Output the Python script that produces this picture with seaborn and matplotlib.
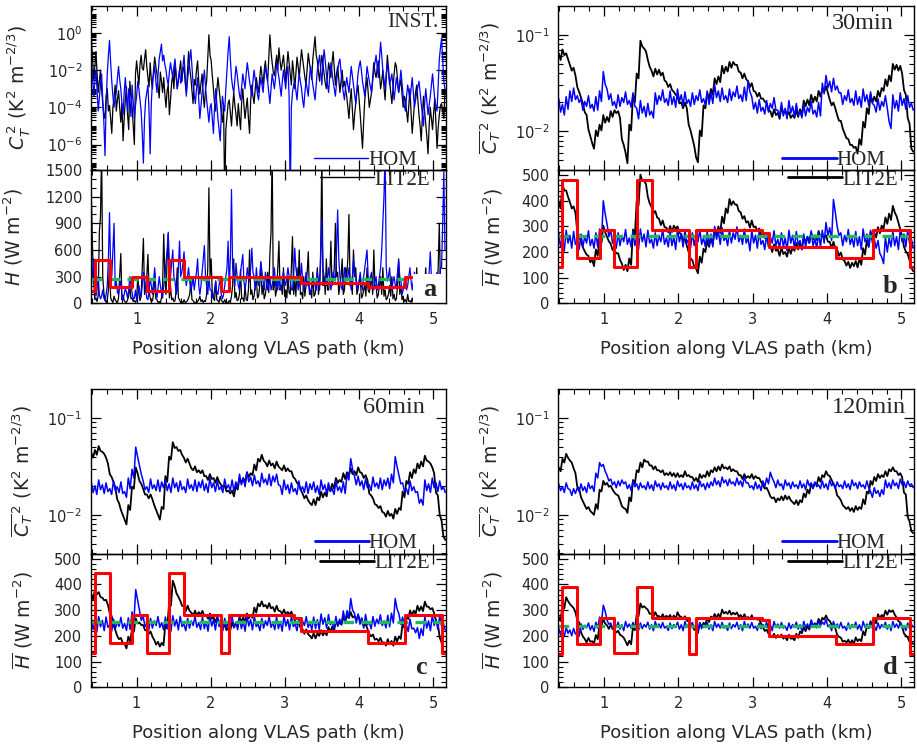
import numpy as np
import matplotlib
matplotlib.use("Agg")
import matplotlib.pyplot as plt
from matplotlib.lines import Line2D
from matplotlib.patches import Rectangle
from matplotlib.ticker import MultipleLocator, LogLocator, FixedLocator, FuncFormatter, NullFormatter
import seaborn as sns

# ------------------------------------------------------------------
# Samples along the VLAS path (km): first and last sample position
x_start, x_end = 0.39, 5.16

# --- instantaneous fields: log10 of C_T^2 and H (W m^-2) ---
ct2_lit_inst = [-0.3, -1.4, -2.5, -1.8, -1.0, -2.2, -3.2, -2.6, -2.0, -3.0, -3.8, -4.4, -4.6, -3.4, -3.0, -4.2, -3.9, -4.6, -5.4, -4.0,
                -3.5, -2.8, -4.2, -3.6, -3.1, -4.0, -4.8, -3.8, -5.8, -4.6, -3.6, -2.9, -4.4, -5.2, -2.6, -3.4, -4.0, -5.0, -6.0, -2.2,
                -1.5, -2.2, -2.8, -1.7, -1.2, -1.9, -2.0, -1.4, -0.9, -1.8, -2.4, -2.9, -1.6, -2.5, -3.0, -2.0, -1.3, -1.8, -2.2, -2.9,
                -3.5, -2.1, -2.6, -3.2,
                -2.4, -3.3, -4.0, -3.1, -2.8, -4.4, -3.6, -2.7, -2.2, -3.0, -1.6, -2.4, -3.0, -2.5, -2.0, -1.5,
                -2.6, -2.0, -1.8, -2.7, -3.2, -2.1, -1.0, -1.9, -2.4, -3.1, -3.8, -2.5, -2.8, -2.0, -1.5, -2.6, -3.3, -2.7, -2.2, -3.4,
                -4.0, -3.0, -2.6, -1.4, -0.1, -1.2,
                -1.5, -2.3, -3.0, -3.8, -4.2, -3.1, -2.4, -3.0, -3.6, -4.4, -4.8, -3.9, -9.0, -5.2, -4.5, -3.8,
                -3.6, -4.3, -5.0, -4.0, -3.2, -3.9, -4.4, -5.0, -3.8, -4.5, -5.2, -3.7, -3.0, -3.9, -4.6, -4.0, -3.5, -4.6, -5.4, -3.6,
                -2.8, -3.4, -3.8, -3.0,
                -2.4, -2.9, -3.2, -2.4, -1.8, -2.3, -2.8, -2.0, -1.5, -2.2, -2.6, -1.4, -0.1, -1.0, -1.6, -2.1, -2.3, -1.7, -1.2, -2.0,
                -0.8, -1.5, -2.0, -1.6, -1.2, -1.9, -2.6, -1.8, -1.0, -1.6, -2.2, -2.8, -1.5, -2.1, -3.0, -2.2, -1.3, -1.8, -2.4, -1.6,
                -0.9, -1.4, -1.9, -2.4, -2.8, -1.9, -1.1, -1.6, -2.0, -2.5, -1.4, -0.8, -0.2, -1.2,
                -1.5, -2.1, -2.6, -1.8, -1.2, -1.7, -2.2, -2.7, -3.0, -2.3, -1.6, -2.0, -2.4, -1.6, -1.0, -1.9, -2.8, -2.2, -1.8, -2.5,
                -3.2, -2.6, -2.0, -2.9, -2.6, -3.0,
                -3.4, -4.0, -4.6, -3.7, -3.0, -4.1, -5.2, -4.4, -3.8, -3.2, -2.8, -3.6, -4.4, -5.3, -6.2, -4.8, -3.6, -3.0, -2.4, -3.2,
                -4.0, -3.6, -3.2, -2.4, -1.6, -2.1,
                -2.4, -1.9, -1.5, -2.2, -3.0, -2.6, -2.0, -2.9, -3.6, -2.4, -1.2, -1.9, -2.6, -3.2, -3.8, -3.0, -2.2, -1.6, -1.8, -2.5,
                -3.2, -2.8, -2.5, -3.3, -4.0, -3.4,
                -3.6, -4.2, -4.8, -3.9, -3.0, -4.3, -5.4, -4.6, -3.8, -3.2, -2.8, -3.6, -4.4, -5.0, -5.8, -4.5, -3.4, -4.2, -4.9, -5.6,
                -6.5, -5.0, -4.0, -4.6, -5.2, -4.3, -3.5, -4.8, -6.2, -5.1, -4.4, -3.9, -3.8, -4.2, -4.6, -3.2]
ct2_hom_inst = [-1.6, -2.4, -3.4, -2.6, -2.0, -3.1, -4.2, -3.5, -2.8, -2.2, -3.6, -4.8, -6.6, -3.8, -2.2, -1.2, -0.4, -1.6, -2.6, -3.4,
                -4.0, -3.5, -3.2, -2.4, -1.8, -2.5, -3.0, -3.8, -4.4, -3.2, -2.4, -3.3, -4.2, -3.0, -3.6, -4.5, -2.8, -3.7, -4.6, -3.9,
                -3.4, -2.6, -3.0, -3.6, -4.2, -5.4, -7.0, -4.6, -3.6, -3.2, -2.8, -4.2, -6.5, -3.8, -2.6, -2.2, -1.8, -2.6, -3.2, -2.2,
                -1.4, -1.0, -0.6, -1.5,
                -1.2, -1.7, -2.0, -2.5, -2.8, -2.1, -1.6, -2.0, -2.4, -1.8, -1.4, -2.2, -3.0, -2.5, -2.0, -2.7,
                -2.6, -1.8, -1.2, -2.3, -3.4, -2.6, -2.0, -1.4, -0.9, -1.8, -2.8, -3.3, -3.8, -3.0, -2.4, -3.6, -4.6, -3.9, -3.2, -2.6,
                -2.0, -2.9, -3.6, -4.2, -4.8, -4.0,
                -3.8, -4.6, -5.4, -4.0, -3.0, -3.8, -4.6, -5.2, -5.8, -4.4, -3.4, -3.9, -4.2, -3.0, -2.0, -1.0,
                -0.2, -1.4, -2.4, -2.9, -3.2, -2.5, -1.8, -2.2, -2.8, -3.3, -3.6, -2.9, -2.2, -2.6, -3.0, -2.2, -1.6, -2.1, -2.6, -3.0,
                -3.4, -2.6, -2.0, -2.5,
                -2.8, -3.3, -3.6, -2.9, -2.4, -2.8, -3.2, -2.4, -1.8, -2.2, -2.6, -3.2, -3.8, -3.0, -2.2, -2.6, -3.0, -2.4, -1.6, -2.0,
                -2.4, -2.9, -3.4, -2.6, -2.0, -2.5, -3.0, -2.2, -1.8, -3.4, -9.0, -4.0, -3.2, -2.8, -2.6, -3.1, -3.6, -2.8, -2.2, -2.6,
                -3.0, -3.6, -4.0, -3.2, -2.6, -3.0, -3.4, -2.4, -1.8, -2.3, -2.8, -3.2, -3.6, -2.8,
                -2.0, -1.6, -1.2, -2.0, -2.8, -1.6, -0.9, -1.5, -2.2, -2.8, -3.2, -2.3, -1.6, -2.1, -2.6, -3.0, -3.4, -2.7, -2.0, -1.6,
                -1.4, -2.1, -2.8, -3.2, -3.6, -2.9,
                -2.4, -2.8, -3.2, -2.5, -1.8, -2.3, -2.8, -3.3, -3.8, -3.0, -2.2, -1.8, -1.5, -2.0, -2.6, -3.0, -3.4, -2.6, -1.8, -2.2,
                -2.6, -2.9, -3.2, -2.6, -2.0, -1.6,
                -1.2, -1.8, -2.4, -1.4, -0.5, -1.2, -2.0, -2.5, -3.0, -2.2, -1.6, -2.2, -2.8, -2.5, -2.2, -2.9, -3.6, -3.0, -2.4, -2.8,
                -3.2, -2.6, -2.0, -2.7, -3.4, -3.9,
                -4.2, -3.4, -2.8, -3.2, -3.6, -3.0, -2.4, -3.2, -4.0, -3.6, -3.2, -2.9, -2.6, -3.2, -3.8, -4.4, -5.0, -3.8, -3.0, -3.7,
                -4.4, -3.9, -3.4, -2.8, -2.2, -2.9, -3.6, -3.9, -4.2, -2.8, -1.4, -0.8, -0.3, -1.5, -2.6, -3.0]
h_lit_inst = [1150, 600, 250, 40, 60, 20, 90, 800, 980, 1700, 300, 120, 40, 10, 40, 150, 450, 60, 30, 10,
              80, 40, 20, 5, 60, 300, 560, 40, 90, 30, 15, 10, 40, 80, 200, 50, 60, 20, 30, 10,
              40, 300, 120, 30, 80, 400, 730, 100, 200, 300, 550, 150, 60, 20, 30, 100, 350, 50, 40, 10, 20, 5, 60, 200,
              780, 300, 100, 500, 780, 60, 200, 40, 60, 20, 30, 150, 400, 60, 40, 10,
              20, 5, 40, 10, 15, 30, 60, 100, 250, 40, 30, 10, 10, 5, 20, 40, 80, 20, 40, 10, 30, 20, 100, 400, 1300, 300,
              500, 100, 60, 30, 250, 40, 30, 10, 80, 30, 20, 5, 40, 10, 10, 5,
              30, 10, 80, 200, 500, 60, 120, 30, 40, 100, 380, 50, 60, 20, 200, 40, 30, 150, 600, 100, 150, 40, 80, 200,
              300, 60, 80, 200, 450, 100, 200, 50, 100, 200, 350, 120, 560, 800, 1700, 150, 300, 80, 150, 400,
              700, 150, 200, 100, 400, 80, 150, 60, 300, 120, 100, 400, 750, 100, 250, 80, 400, 200, 600, 100,
              120, 50, 300, 80, 200, 350, 580, 100, 150, 60, 350, 80, 100, 200,
              400, 100, 200, 600, 1700, 200, 300, 100, 500, 150, 150, 300, 700, 200, 250, 400, 900, 300, 350, 100,
              200, 300, 500, 100, 150, 400,
              300, 500, 1000, 200, 250, 100, 600, 300, 400, 100, 150, 250, 300, 60, 80, 150, 200, 80, 400, 150,
              120, 200, 300, 100, 600, 200,
              200, 60, 100, 200, 300, 100, 400, 80, 150, 40, 60, 100, 200, 80, 300, 50, 100, 30, 50, 200,
              500, 100, 200, 40, 80, 20,
              40, 10, 100, 20, 30, 10, 60, 5, 20, 100, 400, 30, 50, 10, 30, 60, 80, 200, 400, 50,
              60, 20, 150, 40, 300, 80, 100, 30, 60, 400, 900, 200, 250, 40, 80, 300]
h_hom_inst = [200, 350, 500, 150, 80, 180, 300, 100, 50, 80, 150, 60, 30, 100, 200, 500, 1020, 400, 300, 600,
              900, 200, 250, 120, 100, 200, 250, 80, 40, 100, 180, 120, 60, 150, 300, 200, 120, 40, 60, 150,
              30, 100, 200, 120, 80, 200, 350, 250, 150, 60, 40, 150, 280, 200, 100, 250, 400, 150, 60, 180, 300, 200, 120, 60,
              200, 300, 450, 600, 800, 400, 300, 450, 600, 300, 250, 100, 150, 400, 700, 300,
              350, 450, 580, 300, 200, 300, 400, 250, 150, 200, 300, 150, 250, 350, 500, 200, 100, 200, 350, 500,
              650, 300, 200, 100, 300, 150,
              150, 60, 80, 150, 250, 120, 100, 200, 300, 100, 50, 100, 200, 300, 400, 700,
              150, 500, 1280, 400, 300, 200, 450, 300, 200, 150, 350, 450, 550, 250, 150, 250, 400, 300, 250, 400,
              620, 350, 300, 150,
              400, 250, 200, 300, 470, 350, 250, 150, 350, 250, 150, 200, 300, 150, 200, 300, 400, 200, 250, 150,
              300, 200, 150, 250, 350, 250, 200, 300, 400, 300, 250, 150, 150, 300, 620, 400, 300, 150, 200, 300,
              450, 250, 150, 200, 350, 200, 250, 150, 100, 200, 300, 250, 200, 150,
              350, 250, 150, 500, 950, 400, 300, 200, 200, 300, 400, 250, 150, 250, 350, 300, 250, 600, 1050, 500,
              300, 200, 150, 250, 400, 300,
              250, 300, 400, 250, 150, 300, 500, 350, 300, 150, 200, 250, 350, 200, 150, 300, 400, 500, 600, 300,
              200, 300, 350, 200, 150, 250,
              300, 150, 200, 300, 400, 600, 900, 1200, 1700, 400, 250, 300, 400, 200, 150, 250, 300, 200, 200, 350,
              480, 300, 250, 100, 150, 250,
              300, 150, 200, 300, 400, 250, 150, 250, 350, 200, 250, 150, 100, 200, 300, 150, 200, 300, 250, 150,
              150, 350, 580, 300, 300, 150, 200, 300, 350, 200, 250, 400, 400, 900, 1480, 600]

# --- 30 min averages ---
ct2_lit_30 = [-1.19, -1.26, -1.15, -1.21, -1.19, -1.25, -1.31, -1.37, -1.34, -1.42, -1.54, -1.59, -1.65, -1.71, -1.80, -1.83,
              -1.98, -2.05, -2.12, -2.18, -1.99, -2.05, -1.93, -1.99, -1.83, -1.91, -1.85, -1.90, -1.79, -1.85, -1.78, -1.81,
              -1.79, -1.86, -2.08, -2.14, -2.22, -2.33, -1.93, -1.99, -1.62, -1.70, -1.40, -1.45, -1.06, -1.12, -1.14, -1.17,
              -1.26, -1.33, -1.37, -1.43, -1.35, -1.41, -1.36, -1.42, -1.39, -1.47, -1.49, -1.54, -1.51, -1.57, -1.59, -1.62,
              -1.64, -1.71, -1.70, -1.76, -1.70, -1.76, -1.93, -1.99, -2.07, -2.15, -2.27, -2.32, -1.99, -2.05, -1.73, -1.76,
              -1.60, -1.67, -1.56, -1.62, -1.45, -1.51, -1.43, -1.49, -1.32, -1.40, -1.33, -1.38, -1.28, -1.34, -1.28, -1.31,
              -1.31, -1.38, -1.39, -1.45, -1.40, -1.46, -1.48, -1.54, -1.50, -1.58, -1.59, -1.64, -1.60, -1.66, -1.66, -1.69,
              -1.71, -1.78, -1.79, -1.85, -1.77, -1.83, -1.81, -1.87, -1.74, -1.82, -1.78, -1.83, -1.80, -1.86, -1.83, -1.86,
              -1.78, -1.85, -1.77, -1.83, -1.68, -1.74, -1.67, -1.73, -1.62, -1.70, -1.64, -1.69, -1.58, -1.64, -1.56, -1.59,
              -1.53, -1.60, -1.67, -1.73, -1.70, -1.76, -1.83, -1.89, -1.89, -1.97, -2.02, -2.07, -2.08, -2.14, -2.14, -2.17,
              -2.16, -2.23, -2.08, -2.14, -1.90, -1.96, -1.76, -1.82, -1.62, -1.70, -1.64, -1.69, -1.58, -1.64, -1.55, -1.58,
              -1.46, -1.53, -1.42, -1.48, -1.30, -1.36, -1.31, -1.37, -1.32, -1.40, -1.57, -1.62, -1.86, -1.92, -2.18, -2.21]
ct2_hom_30 = [-1.66, -1.80, -1.72, -1.83, -1.64, -1.77, -1.58, -1.69, -1.55, -1.67, -1.63, -1.70, -1.66, -1.78, -1.69, -1.74,
              -1.63, -1.76, -1.72, -1.79, -1.64, -1.78, -1.58, -1.69, -1.38, -1.51, -1.56, -1.67, -1.61, -1.73, -1.69, -1.76,
              -1.62, -1.74, -1.65, -1.70, -1.59, -1.72, -1.68, -1.75, -1.60, -1.74, -1.76, -1.87, -1.68, -1.81, -1.74, -1.85,
              -1.71, -1.83, -1.79, -1.86, -1.60, -1.72, -1.63, -1.68, -1.57, -1.70, -1.66, -1.73, -1.58, -1.72, -1.64, -1.75,
              -1.56, -1.69, -1.62, -1.73, -1.59, -1.71, -1.67, -1.74, -1.60, -1.72, -1.63, -1.68, -1.57, -1.70, -1.66, -1.73,
              -1.58, -1.72, -1.60, -1.71, -1.52, -1.65, -1.58, -1.69, -1.55, -1.67, -1.63, -1.70, -1.56, -1.68, -1.59, -1.64,
              -1.53, -1.66, -1.62, -1.69, -1.54, -1.68, -1.48, -1.59, -1.64, -1.77, -1.70, -1.81, -1.67, -1.79, -1.75, -1.82,
              -1.68, -1.80, -1.71, -1.76, -1.65, -1.78, -1.78, -1.85, -1.70, -1.84, -1.76, -1.87, -1.68, -1.81, -1.74, -1.85,
              -1.71, -1.83, -1.79, -1.86, -1.72, -1.84, -1.75, -1.80, -1.69, -1.82, -1.78, -1.85, -1.70, -1.84, -1.50, -1.61,
              -1.42, -1.55, -1.48, -1.59, -1.45, -1.57, -1.53, -1.60, -1.60, -1.72, -1.63, -1.68, -1.57, -1.70, -1.66, -1.73,
              -1.58, -1.72, -1.64, -1.75, -1.56, -1.69, -1.62, -1.73, -1.59, -1.71, -1.73, -1.80, -1.66, -1.78, -1.69, -1.74,
              -1.63, -1.76, -1.90, -1.97, -1.62, -1.76, -1.68, -1.79, -1.60, -1.73, -1.66, -1.77, -1.63, -1.75, -1.71, -1.78]
h_lit_30 = [395, 370, 465, 440, 440, 415, 395, 370, 378, 352, 280, 262, 242, 218, 203, 190, 185, 160, 170, 145, 210, 185,
            260, 235, 303, 277, 260, 242, 232, 208, 208, 195, 195, 170, 155, 130, 150, 125, 175, 150, 288, 262, 400, 382,
            502, 478, 478, 465, 415, 390, 375, 350, 360, 335, 330, 305, 323, 297, 295, 277, 302, 278, 303, 290, 300, 275,
            270, 245, 250, 225, 200, 175, 168, 142, 135, 117, 182, 158, 213, 200, 245, 220, 255, 230, 290, 265, 300, 275,
            338, 312, 370, 352, 407, 383, 398, 385, 385, 360, 355, 330, 340, 315, 320, 295, 323, 297, 300, 282, 292, 268,
            268, 255, 255, 230, 225, 200, 230, 205, 210, 185, 218, 192, 200, 182, 217, 193, 218, 205, 235, 210, 235, 210,
            260, 235, 260, 235, 276, 250, 265, 247, 282, 258, 268, 255, 265, 240, 240, 215, 240, 215, 210, 185, 198, 172,
            165, 147, 162, 138, 158, 145, 165, 140, 175, 150, 215, 190, 245, 220, 278, 252, 275, 257, 297, 273, 303, 290,
            335, 310, 350, 325, 380, 355, 340, 315, 288, 262, 220, 202, 192, 168, 138, 125]
h_hom_30 = [275, 220, 255, 205, 285, 235, 265, 215, 280, 230, 245, 210, 270, 220, 260, 235, 283, 225, 250, 215, 275, 220,
            290, 240, 400, 350, 310, 260, 285, 235, 250, 215, 275, 225, 265, 240, 288, 230, 255, 220, 280, 225, 260, 210,
            290, 240, 270, 220, 285, 235, 250, 215, 275, 225, 265, 240, 288, 230, 255, 220, 280, 225, 260, 210, 290, 240,
            270, 220, 285, 235, 250, 215, 275, 225, 265, 240, 288, 230, 255, 220, 280, 225, 270, 220, 300, 250, 280, 230,
            295, 245, 260, 225, 285, 235, 275, 250, 298, 240, 265, 230, 290, 235, 255, 205, 285, 235, 265, 215, 280, 230,
            245, 210, 270, 220, 260, 235, 283, 225, 250, 215, 275, 220, 255, 205, 285, 235, 265, 215, 280, 230, 245, 210,
            270, 220, 260, 235, 283, 225, 250, 215, 275, 220, 285, 235, 315, 265, 295, 245, 405, 355, 300, 265, 275, 225,
            265, 240, 288, 230, 255, 220, 280, 225, 260, 210, 290, 240, 270, 220, 285, 235, 250, 215, 245, 195, 180, 155,
            258, 200, 255, 220, 280, 225, 260, 210, 290, 240, 270, 220, 285, 235, 250, 215]

# --- 60 min averages ---
ct2_lit_60 = [-1.36, -1.41, -1.33, -1.38, -1.29, -1.34, -1.35, -1.37, -1.41, -1.47, -1.58, -1.61, -1.66, -1.72, -1.84, -1.88,
              -1.95, -2.00, -2.05, -2.10, -1.90, -1.95, -1.71, -1.73, -1.51, -1.57, -1.65, -1.68, -1.73, -1.79, -1.79, -1.83,
              -1.79, -1.84, -1.90, -1.95, -2.00, -2.05, -1.92, -1.94, -1.60, -1.66, -1.40, -1.43, -1.25, -1.31, -1.30, -1.34,
              -1.33, -1.38, -1.41, -1.46, -1.42, -1.47, -1.52, -1.54, -1.50, -1.56, -1.54, -1.57, -1.54, -1.60, -1.60, -1.64,
              -1.58, -1.63, -1.62, -1.67, -1.61, -1.66, -1.69, -1.71, -1.70, -1.76, -1.75, -1.78, -1.75, -1.81, -1.70, -1.74,
              -1.62, -1.67, -1.62, -1.67, -1.56, -1.61, -1.57, -1.59, -1.48, -1.54, -1.42, -1.45, -1.38, -1.44, -1.46, -1.50,
              -1.44, -1.49, -1.47, -1.52, -1.45, -1.50, -1.52, -1.54, -1.49, -1.55, -1.52, -1.55, -1.55, -1.61, -1.63, -1.67,
              -1.69, -1.74, -1.78, -1.83, -1.80, -1.85, -1.88, -1.90, -1.84, -1.90, -1.82, -1.85, -1.76, -1.82, -1.77, -1.81,
              -1.70, -1.75, -1.68, -1.73, -1.62, -1.67, -1.64, -1.66, -1.57, -1.63, -1.56, -1.59, -1.52, -1.58, -1.55, -1.59,
              -1.51, -1.56, -1.57, -1.62, -1.59, -1.64, -1.78, -1.80, -1.83, -1.89, -1.90, -1.93, -1.91, -1.97, -1.98, -2.02,
              -1.96, -2.01, -1.99, -2.04, -1.94, -1.99, -1.93, -1.95, -1.76, -1.82, -1.65, -1.68, -1.56, -1.62, -1.53, -1.57,
              -1.47, -1.52, -1.45, -1.50, -1.39, -1.44, -1.45, -1.47, -1.51, -1.57, -1.77, -1.80, -2.00, -2.06, -2.22, -2.26]
ct2_hom_60 = [-1.66, -1.77, -1.70, -1.79, -1.64, -1.74, -1.69, -1.78, -1.67, -1.76, -1.73, -1.79, -1.65, -1.75, -1.71, -1.77,
              -1.66, -1.78, -1.76, -1.82, -1.62, -1.73, -1.53, -1.62, -1.30, -1.40, -1.49, -1.58, -1.65, -1.74, -1.71, -1.77,
              -1.63, -1.73, -1.69, -1.75, -1.64, -1.76, -1.66, -1.72, -1.64, -1.75, -1.68, -1.77, -1.62, -1.72, -1.67, -1.76,
              -1.65, -1.74, -1.71, -1.77, -1.63, -1.73, -1.69, -1.75, -1.64, -1.76, -1.66, -1.72, -1.64, -1.75, -1.68, -1.77,
              -1.62, -1.72, -1.67, -1.76, -1.65, -1.74, -1.71, -1.77, -1.63, -1.73, -1.69, -1.75, -1.64, -1.76, -1.66, -1.72,
              -1.58, -1.69, -1.62, -1.71, -1.56, -1.66, -1.61, -1.70, -1.59, -1.68, -1.65, -1.71, -1.57, -1.67, -1.63, -1.69,
              -1.58, -1.70, -1.60, -1.66, -1.58, -1.69, -1.70, -1.79, -1.64, -1.74, -1.69, -1.78, -1.67, -1.76, -1.73, -1.79,
              -1.65, -1.75, -1.71, -1.77, -1.66, -1.78, -1.68, -1.74, -1.66, -1.77, -1.70, -1.79, -1.64, -1.74, -1.69, -1.78,
              -1.67, -1.76, -1.73, -1.79, -1.65, -1.75, -1.71, -1.77, -1.66, -1.78, -1.58, -1.64, -1.42, -1.53, -1.60, -1.69,
              -1.60, -1.70, -1.65, -1.74, -1.63, -1.72, -1.69, -1.75, -1.61, -1.71, -1.67, -1.73, -1.62, -1.74, -1.64, -1.70,
              -1.62, -1.73, -1.58, -1.67, -1.40, -1.50, -1.59, -1.68, -1.67, -1.76, -1.73, -1.79, -1.65, -1.75, -1.71, -1.77,
              -1.76, -1.88, -1.84, -1.90, -1.64, -1.75, -1.68, -1.77, -1.62, -1.72, -1.67, -1.76, -1.65, -1.74, -1.71, -1.77]
h_lit_60 = [362, 342, 379, 361, 370, 351, 348, 338, 340, 320, 287, 277, 242, 222, 200, 187, 192, 172, 169, 151, 197, 178,
            226, 216, 268, 248, 252, 242, 242, 222, 220, 207, 217, 197, 184, 166, 177, 158, 173, 163, 248, 228, 327, 317,
            414, 394, 365, 352, 337, 317, 314, 296, 317, 298, 290, 280, 298, 278, 292, 282, 297, 277, 280, 267, 287, 267,
            272, 254, 273, 254, 243, 233, 242, 222, 232, 222, 252, 232, 250, 237, 274, 254, 272, 254, 287, 268, 280, 270,
            310, 290, 325, 315, 334, 314, 320, 307, 327, 307, 312, 294, 317, 298, 296, 286, 302, 282, 293, 283, 294, 274,
            258, 245, 250, 230, 226, 208, 225, 206, 200, 190, 210, 190, 210, 200, 222, 202, 215, 202, 234, 214, 236, 218,
            260, 241, 253, 243, 275, 255, 279, 269, 292, 272, 276, 263, 280, 260, 256, 238, 247, 228, 208, 198, 205, 185,
            189, 179, 192, 172, 175, 162, 187, 167, 180, 162, 197, 178, 198, 188, 250, 230, 275, 265, 299, 279, 298, 285,
            317, 297, 314, 296, 333, 314, 313, 303, 308, 288, 257, 247, 194, 174, 140, 127]
h_hom_60 = [270, 225, 253, 215, 275, 235, 260, 220, 273, 233, 243, 217, 265, 227, 255, 237, 272, 230, 248, 221, 270, 225,
            293, 255, 380, 340, 300, 260, 276, 236, 246, 220, 268, 230, 258, 240, 275, 233, 251, 224, 273, 228, 256, 218,
            278, 238, 263, 223, 276, 236, 246, 220, 268, 230, 258, 240, 275, 233, 251, 224, 273, 228, 256, 218, 278, 238,
            263, 223, 276, 236, 246, 220, 268, 230, 258, 240, 275, 233, 251, 224, 273, 228, 256, 218, 278, 238, 263, 223,
            276, 236, 246, 220, 268, 230, 258, 240, 275, 233, 251, 224, 273, 228, 256, 218, 278, 238, 263, 223, 276, 236,
            246, 220, 268, 230, 258, 240, 275, 233, 251, 224, 273, 228, 263, 225, 285, 245, 270, 230, 283, 243, 253, 227,
            275, 237, 265, 247, 297, 255, 298, 271, 345, 300, 288, 250, 285, 245, 270, 230, 283, 243, 253, 227, 275, 237,
            265, 247, 282, 240, 258, 231, 280, 235, 288, 250, 345, 305, 285, 245, 273, 233, 243, 217, 265, 227, 230, 212,
            232, 190, 228, 201, 275, 230, 258, 220, 280, 240, 265, 225, 278, 238, 248, 222]

# --- 120 min averages ---
ct2_lit_120 = [-1.51, -1.55, -1.42, -1.46, -1.37, -1.41, -1.44, -1.46, -1.52, -1.57, -1.71, -1.73, -1.82, -1.86, -1.90, -1.94,
               -1.92, -1.96, -1.98, -2.00, -1.89, -1.94, -1.74, -1.76, -1.65, -1.69, -1.67, -1.71, -1.70, -1.74, -1.77, -1.79,
               -1.80, -1.85, -1.91, -1.93, -1.94, -1.98, -1.82, -1.86, -1.64, -1.68, -1.54, -1.56, -1.46, -1.51, -1.43, -1.45,
               -1.45, -1.49, -1.49, -1.53, -1.50, -1.54, -1.54, -1.56, -1.54, -1.59, -1.57, -1.59, -1.56, -1.60, -1.57, -1.61,
               -1.57, -1.61, -1.59, -1.61, -1.55, -1.60, -1.59, -1.61, -1.61, -1.65, -1.62, -1.66, -1.58, -1.62, -1.59, -1.61,
               -1.55, -1.60, -1.54, -1.56, -1.51, -1.55, -1.50, -1.54, -1.48, -1.52, -1.51, -1.53, -1.50, -1.55, -1.53, -1.55,
               -1.55, -1.59, -1.59, -1.63, -1.58, -1.62, -1.60, -1.62, -1.58, -1.63, -1.60, -1.62, -1.62, -1.66, -1.69, -1.73,
               -1.72, -1.76, -1.81, -1.83, -1.82, -1.87, -1.83, -1.85, -1.81, -1.85, -1.80, -1.84, -1.81, -1.85, -1.87, -1.89,
               -1.85, -1.90, -1.85, -1.87, -1.78, -1.82, -1.74, -1.78, -1.68, -1.72, -1.67, -1.69, -1.61, -1.66, -1.59, -1.61,
               -1.55, -1.59, -1.60, -1.64, -1.68, -1.72, -1.80, -1.82, -1.85, -1.90, -1.92, -1.94, -1.92, -1.96, -1.93, -1.97,
               -1.91, -1.95, -1.92, -1.94, -1.84, -1.89, -1.76, -1.78, -1.65, -1.69, -1.61, -1.65, -1.58, -1.62, -1.59, -1.61,
               -1.55, -1.60, -1.53, -1.55, -1.51, -1.55, -1.55, -1.59, -1.57, -1.61, -1.77, -1.79, -2.02, -2.07, -2.17, -2.19]
ct2_hom_120 = [-1.68, -1.75, -1.71, -1.77, -1.67, -1.73, -1.74, -1.80, -1.73, -1.78, -1.72, -1.76, -1.68, -1.75, -1.71, -1.77,
               -1.67, -1.73, -1.70, -1.76, -1.57, -1.62, -1.46, -1.50, -1.48, -1.55, -1.59, -1.65, -1.63, -1.69, -1.66, -1.72,
               -1.65, -1.70, -1.64, -1.68, -1.66, -1.73, -1.69, -1.75, -1.65, -1.71, -1.68, -1.74, -1.67, -1.72, -1.70, -1.74,
               -1.66, -1.73, -1.69, -1.75, -1.65, -1.71, -1.68, -1.74, -1.67, -1.72, -1.70, -1.74, -1.66, -1.73, -1.69, -1.75,
               -1.65, -1.71, -1.68, -1.74, -1.67, -1.72, -1.70, -1.74, -1.66, -1.73, -1.69, -1.75, -1.65, -1.71, -1.68, -1.74,
               -1.67, -1.72, -1.66, -1.70, -1.62, -1.69, -1.65, -1.71, -1.61, -1.67, -1.64, -1.70, -1.63, -1.68, -1.66, -1.70,
               -1.62, -1.69, -1.65, -1.71, -1.61, -1.67, -1.67, -1.72, -1.70, -1.74, -1.66, -1.73, -1.69, -1.75, -1.65, -1.71,
               -1.62, -1.68, -1.56, -1.62, -1.66, -1.72, -1.64, -1.70, -1.68, -1.74, -1.64, -1.70, -1.67, -1.73, -1.66, -1.71,
               -1.69, -1.73, -1.65, -1.72, -1.68, -1.74, -1.64, -1.70, -1.67, -1.73, -1.66, -1.71, -1.69, -1.73, -1.65, -1.72,
               -1.68, -1.74, -1.64, -1.70, -1.67, -1.73, -1.66, -1.71, -1.69, -1.73, -1.65, -1.72, -1.68, -1.74, -1.64, -1.70,
               -1.67, -1.73, -1.66, -1.71, -1.69, -1.73, -1.65, -1.72, -1.76, -1.82, -1.72, -1.78, -1.75, -1.81, -1.74, -1.79,
               -1.64, -1.72, -1.67, -1.73, -1.64, -1.70, -1.67, -1.73, -1.63, -1.69, -1.66, -1.72, -1.65, -1.70, -1.68, -1.72]
h_lit_120 = [274, 258, 321, 307, 350, 335, 324, 316, 308, 292, 260, 253, 214, 198, 188, 174, 192, 177, 179, 171, 203, 187,
             245, 238, 264, 248, 241, 227, 242, 227, 221, 213, 220, 204, 200, 193, 179, 163, 181, 167, 237, 222, 284, 276,
             326, 310, 315, 308, 301, 285, 288, 274, 292, 277, 277, 269, 284, 268, 278, 271, 281, 265, 279, 265, 292, 277,
             274, 266, 276, 260, 255, 248, 239, 223, 225, 211, 250, 235, 251, 243, 270, 254, 275, 268, 285, 269, 285, 271,
             302, 287, 293, 285, 298, 282, 290, 283, 291, 275, 281, 267, 284, 269, 273, 265, 280, 264, 270, 263, 264, 248,
             233, 219, 224, 209, 202, 194, 208, 192, 203, 196, 205, 189, 197, 183, 204, 189, 191, 183, 208, 192, 217, 210,
             234, 218, 238, 224, 254, 239, 249, 241, 266, 250, 270, 263, 279, 263, 258, 244, 244, 229, 204, 196, 193, 177,
             181, 174, 185, 169, 183, 169, 194, 179, 187, 179, 218, 202, 237, 230, 257, 241, 263, 249, 284, 269, 281, 273,
             298, 282, 300, 293, 299, 283, 271, 257, 252, 237, 209, 201, 193, 177, 175, 168]
h_hom_120 = [230, 203, 220, 197, 233, 210, 223, 200, 229, 207, 214, 198, 247, 225, 241, 231, 250, 223, 240, 217, 253, 230,
             273, 250, 319, 297, 261, 245, 250, 228, 244, 234, 253, 226, 243, 220, 256, 233, 246, 230, 252, 230, 237, 221,
             250, 228, 244, 234, 253, 226, 243, 220, 256, 233, 246, 230, 252, 230, 237, 221, 250, 228, 244, 234, 253, 226,
             243, 220, 256, 233, 246, 230, 252, 230, 237, 221, 250, 228, 244, 234, 253, 226, 243, 220, 256, 233, 246, 230,
             252, 230, 237, 221, 250, 228, 244, 234, 253, 226, 243, 220, 256, 233, 246, 230, 252, 230, 237, 221, 250, 228,
             244, 234, 253, 226, 243, 220, 256, 233, 246, 230, 252, 230, 237, 221, 250, 228, 244, 234, 253, 226, 243, 220,
             256, 233, 246, 230, 262, 240, 247, 231, 260, 238, 254, 244, 263, 236, 243, 220, 256, 233, 246, 230, 252, 230,
             237, 221, 250, 228, 244, 234, 253, 226, 243, 220, 256, 233, 246, 230, 252, 230, 237, 221, 250, 228, 244, 234,
             253, 226, 243, 220, 256, 233, 246, 230, 252, 230, 237, 221, 250, 228, 244, 234]

# --- prescribed surface heat flux per land-use patch, and path mean ---
patch_edges = [0.38, 0.44, 0.64, 0.94, 1.14, 1.44, 1.64, 2.14, 2.24, 3.12, 3.22, 4.12, 4.62, 5.12, 5.18]
h_patch_inst = [140, 487, 180, 292, 138, 487, 300, 140, 300, 300, 225, 180, 300, 140]
h_patch_30 = [140, 480, 175, 285, 140, 480, 285, 140, 285, 275, 220, 175, 285, 140]
h_patch_60 = [135, 445, 173, 280, 135, 445, 280, 135, 280, 270, 218, 173, 280, 135]
h_patch_120 = [130, 388, 168, 270, 132, 388, 270, 130, 270, 262, 198, 168, 270, 130]
h_path_mean = [270, 262, 254, 238]

panel_tags = ["INST.", "30min", "60min", "120min"]
panel_letters = ["a", "b", "c", "d"]

# ------------------------------------------------------------------
sns.set_theme(style="ticks")
plt.rcParams["font.family"] = ["DejaVu Sans"]
plt.rcParams["mathtext.fontset"] = "dejavusans"
plt.rcParams["axes.linewidth"] = 1.0

W, H = 917, 747
fig = plt.figure(figsize=(W / 100, H / 100), dpi=100)


def frame(left, right, top, bottom):
    return [left / W, 1 - bottom / H, (right - left) / W, (bottom - top) / H]


layout = [
    (90.7, 445.7, 6.0, 170.0, 303.3),
    (558.0, 914.0, 6.0, 170.0, 303.3),
    (90.5, 446.0, 389.0, 553.5, 687.3),
    (558.0, 914.0, 389.0, 553.5, 687.3),
]

ct2_lit = [ct2_lit_inst, ct2_lit_30, ct2_lit_60, ct2_lit_120]
ct2_hom = [ct2_hom_inst, ct2_hom_30, ct2_hom_60, ct2_hom_120]
h_lit = [h_lit_inst, h_lit_30, h_lit_60, h_lit_120]
h_hom = [h_hom_inst, h_hom_30, h_hom_60, h_hom_120]
h_patch = [h_patch_inst, h_patch_30, h_patch_60, h_patch_120]

serif = "Liberation Serif"
BLUE = "#0000ff"
GREEN = "#1fb85a"

tag_pos = [(0.835, 0.90), (0.77, 0.895), (0.767, 0.89), (0.77, 0.89)]
tag_size = [15.5, 17.5, 17.5, 17.5]
letter_pos = [(0.955, 0.055), (0.933, 0.075), (0.93, 0.10), (0.933, 0.10)]
ylab_top_x = [-0.165, -0.155, -0.156, -0.155]
ylab_bot_x = [-0.185, -0.149, -0.156, -0.149]

# decade ticks of the instantaneous C_T^2 axis: labelled (even) and unlabelled (odd)
inst_labelled = [1e0, 1e-2, 1e-4, 1e-6]
inst_minor = [m * 10.0 ** e for e in range(-8, 2) for m in range(1, 10)
              if not (m == 1 and e % 2 == 0)]


def power_label(v, pos):
    return r"$10^{%d}$" % int(round(np.log10(v)))


for i in range(4):
    l, r, t, m, b = layout[i]
    inst = i == 0
    ax_t = fig.add_axes(frame(l, r, t, m))
    ax_b = fig.add_axes(frame(l, r, m, b))
    lw_lit = 0.9 if inst else 1.3
    lw_hom = 0.9 if inst else 1.1

    # upper panel: structure parameter (log axis)
    ax_t.set_yscale("log")
    for vals, col, lw in ((ct2_lit[i], "black", lw_lit), (ct2_hom[i], BLUE, lw_hom)):
        xs = np.linspace(x_start, x_end, len(vals))
        sns.lineplot(x=xs, y=10.0 ** np.asarray(vals), ax=ax_t, color=col, lw=lw,
                     estimator=None, sort=False, legend=False)
    if inst:
        ax_t.set_ylim(10 ** -7.37, 10 ** 1.45)
        ax_t.yaxis.set_major_locator(FixedLocator(inst_labelled))
        ax_t.yaxis.set_minor_locator(FixedLocator(inst_minor))
    else:
        ax_t.set_ylim(10 ** -2.40, 10 ** -0.70)
        ax_t.yaxis.set_major_locator(LogLocator(base=10, numticks=30))
        ax_t.yaxis.set_minor_locator(LogLocator(base=10, subs=np.arange(2, 10), numticks=30))
    ax_t.yaxis.set_major_formatter(FuncFormatter(power_label))
    ax_t.yaxis.set_minor_formatter(NullFormatter())

    # lower panel: sensible heat flux
    for vals, col, lw in ((h_lit[i], "black", lw_lit), (h_hom[i], BLUE, lw_hom)):
        xs = np.linspace(x_start, x_end, len(vals))
        sns.lineplot(x=xs, y=vals, ax=ax_b, color=col, lw=lw,
                     estimator=None, sort=False, legend=False)
    ax_b.axhline(h_path_mean[i], color=GREEN, lw=2.4, dashes=(3.2, 2.2), zorder=3)
    ax_b.step(patch_edges, h_patch[i] + [h_patch[i][-1]], where="post", color="red", lw=2.2, zorder=3.2)
    if inst:
        ax_b.set_ylim(0, 1500)
        ax_b.yaxis.set_major_locator(MultipleLocator(300))
        ax_b.yaxis.set_minor_locator(MultipleLocator(100))
    else:
        ax_b.set_ylim(0, 520)
        ax_b.yaxis.set_major_locator(MultipleLocator(100))
        ax_b.yaxis.set_minor_locator(MultipleLocator(20))

    for ax in (ax_t, ax_b):
        ax.set_xlim(0.38, 5.17)
        ax.xaxis.set_major_locator(MultipleLocator(1))
        ax.xaxis.set_minor_locator(MultipleLocator(0.2))
        ax.tick_params(which="both", direction="in", top=True, right=True, color="black",
                       labelsize=10.5, pad=6)
        ax.tick_params(which="major", length=7, width=0.9)
        ax.tick_params(which="minor", length=3.5, width=0.8)
        for s in ax.spines.values():
            s.set_color("black")
            s.set_linewidth(1.0)
            s.set_zorder(6)
        ax.set_facecolor("none")
    ax_t.tick_params(labelbottom=False)

    # axis labels
    if inst:
        ax_t.set_ylabel(r"$C_T^{\,2}$ (K$^2$ m$^{-2/3}$)", fontsize=13.5)
        ax_b.set_ylabel(r"$H$ (W m$^{-2}$)", fontsize=13.5)
    else:
        ax_t.set_ylabel(r"$\overline{C_T}^{\,2}$ (K$^2$ m$^{-2/3}$)", fontsize=13.5)
        ax_b.set_ylabel(r"$\overline{H}$ (W m$^{-2}$)", fontsize=13.5)
    ax_t.yaxis.set_label_coords(ylab_top_x[i], 0.5)
    ax_b.yaxis.set_label_coords(ylab_bot_x[i], 0.5)
    ax_b.set_xlabel("Position along VLAS path (km)", fontsize=13)
    ax_b.xaxis.set_label_coords(0.5, -0.275)
    ax_t.set_xlabel("")

    # legends
    hl = 1.0 if inst else 2.0
    ax_t.legend(handles=[Line2D([], [], color=BLUE, lw=hl)], labels=["HOM"],
                loc="lower right", bbox_to_anchor=(0.92, 0.0), frameon=False,
                handlelength=2.6, handletextpad=0.0, borderpad=0.0, borderaxespad=0.0,
                prop={"family": serif, "size": 15})
    ax_b.legend(handles=[Line2D([], [], color="black", lw=hl)], labels=["LIT2E"],
                loc="upper right", bbox_to_anchor=(0.955, 1.0), frameon=False,
                handlelength=2.6, handletextpad=0.0, borderpad=0.0, borderaxespad=0.0,
                prop={"family": serif, "size": 15})

    # averaging-time tag and panel letter
    ax_t.text(tag_pos[i][0], tag_pos[i][1], panel_tags[i], transform=ax_t.transAxes,
              ha="left", va="center", fontsize=tag_size[i], family=serif)
    if inst:
        ax_b.add_patch(Rectangle((0.908, 0.0), 0.092, 0.22, transform=ax_b.transAxes,
                                 facecolor="white", edgecolor="none", zorder=4))
    ax_b.text(letter_pos[i][0], letter_pos[i][1], panel_letters[i], transform=ax_b.transAxes,
              ha="center", va="baseline", fontsize=19, family=serif, fontweight="bold", zorder=5)

fig.savefig("out.png", dpi=100, facecolor="white")
